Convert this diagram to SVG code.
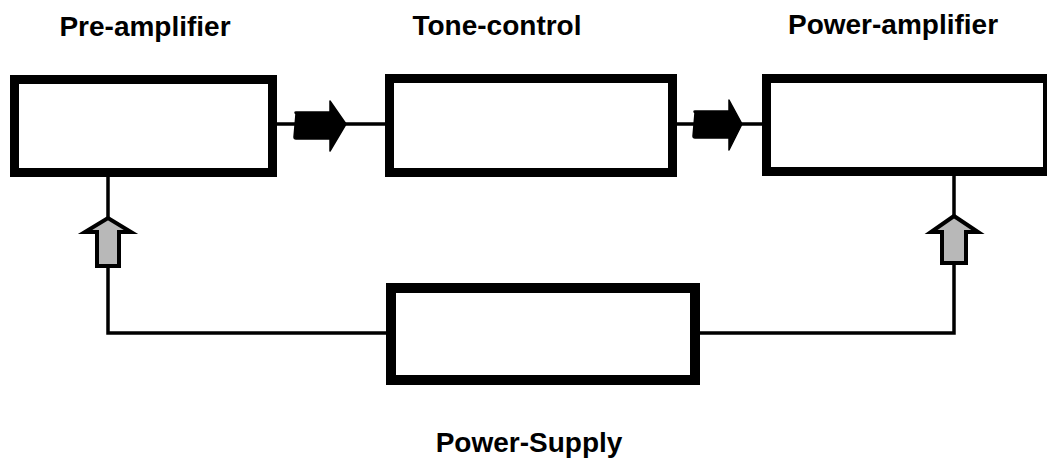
<svg xmlns="http://www.w3.org/2000/svg" width="1047" height="462" viewBox="0 0 1047 462">
<defs>
<style>
.box{fill:#fff;stroke:#000;stroke-width:9}
.lbl{font-family:"Liberation Sans",Arial,sans-serif;font-weight:bold;font-size:28px;fill:#000;text-anchor:middle}
.wire{fill:none;stroke:#000;stroke-width:3.5}
.sig{fill:#000;stroke:#000;stroke-width:1.5;stroke-linejoin:round}
.pwr{fill:#b8b8b8;stroke:#000;stroke-width:4;stroke-linejoin:miter}
</style>
</defs>
<rect width="1047" height="462" fill="#fff"/>
<g id="connectors">
<path class="wire" d="M277 124H296M344 124H387"/>
<path class="wire" d="M676 124H695M740 124H763"/>
<path class="wire" d="M108 177V333H387"/>
<path class="wire" d="M954 176V333H699"/>
<path class="sig" d="M296 114Q294 112 296 112H330V101L346 124L330 151V139H296Q294 139 294 137Z"/>
<path class="sig" d="M695 113Q693 111 695 111H729V100L742 124L729 150V138H695Q693 138 693 136Z"/>
<path class="pwr" d="M97 266V232H85L108 218L131 232H119V266Z"/>
<path class="pwr" d="M942 263V232H931L954 216L978 232H966V263Z"/>
</g>
<g id="pre-amplifier">
<rect class="box" x="14.5" y="79.5" width="258" height="93"/>
<text class="lbl" x="145" y="36">Pre-amplifier</text>
</g>
<g id="tone-control">
<rect class="box" x="389.5" y="78.5" width="283" height="94"/>
<text class="lbl" x="497" y="35">Tone-control</text>
</g>
<g id="power-amplifier">
<rect class="box" x="766.5" y="78.5" width="281" height="93"/>
<text class="lbl" x="893" y="34">Power-amplifier</text>
</g>
<g id="power-supply">
<rect class="box" x="391" y="288" width="304" height="92" style="stroke-width:10"/>
<text class="lbl" x="529" y="452">Power-Supply</text>
</g>
</svg>
